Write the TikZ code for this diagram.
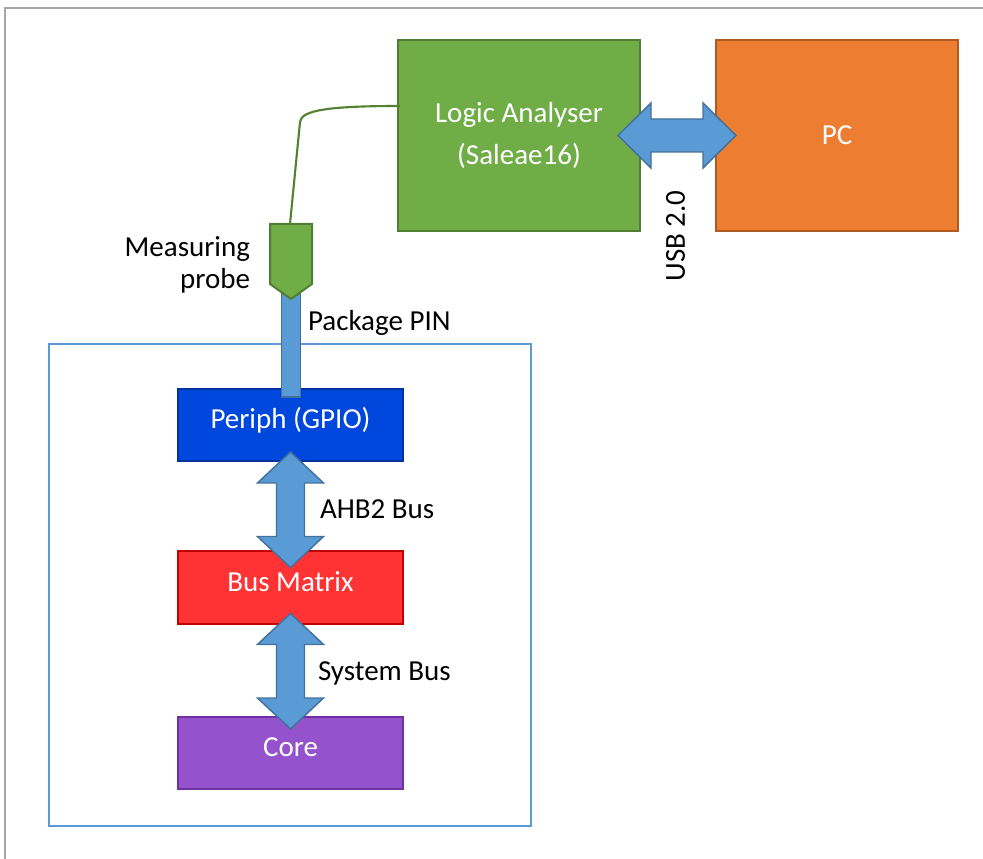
\documentclass[tikz,border=0pt]{standalone}
\usepackage{fontspec}
\setmainfont{Carlito}
\usetikzlibrary{calc}
\definecolor{lagreen}{RGB}{112,173,71}
\definecolor{lagreenD}{RGB}{80,126,50}
\definecolor{pcorange}{RGB}{237,125,49}
\definecolor{pcorangeD}{RGB}{174,90,33}
\definecolor{arrowblue}{RGB}{91,155,213}
\definecolor{arrowblueD}{RGB}{65,113,156}
\definecolor{periphblue}{RGB}{0,71,221}
\definecolor{periphblueD}{RGB}{0,51,160}
\definecolor{busred}{RGB}{255,51,51}
\definecolor{busredD}{RGB}{192,0,0}
\definecolor{corepurple}{RGB}{148,83,205}
\definecolor{corepurpleD}{RGB}{112,48,160}
\definecolor{framegray}{RGB}{166,166,166}
\definecolor{cablegreen}{RGB}{84,130,53}
\newcommand\mydblv[2]{%
  \draw[busarrow] let \p1=(#1), \p2=(#2) in
    (\x1,\y1) -- (\x1+24.75pt,\y1-23.25pt) -- (\x1+10.5pt,\y1-23.25pt)
    -- (\x1+10.5pt,\y2+23.25pt) -- (\x1+24.75pt,\y2+23.25pt) -- (\x1,\y2)
    -- (\x1-24.75pt,\y2+23.25pt) -- (\x1-10.5pt,\y2+23.25pt)
    -- (\x1-10.5pt,\y1-23.25pt) -- (\x1-24.75pt,\y1-23.25pt) -- cycle;}
\newcommand\mydblh[2]{%
  \draw[busarrow] let \p1=(#1), \p2=(#2) in
    (\x1,\y1) -- (\x1+24.75pt,\y1+24.375pt) -- (\x1+24.75pt,\y1+12.375pt)
    -- (\x2-24.75pt,\y1+12.375pt) -- (\x2-24.75pt,\y1+24.375pt) -- (\x2,\y1)
    -- (\x2-24.75pt,\y1-24.375pt) -- (\x2-24.75pt,\y1-12.375pt)
    -- (\x1+24.75pt,\y1-12.375pt) -- (\x1+24.75pt,\y1-24.375pt) -- cycle;}
\tikzset{
  txt/.style={font=\fontsize{21.75pt}{26pt}\selectfont},
  box/.style={txt, draw, line width=1.5pt, inner sep=0pt, outer sep=0pt, text=white},
  bigbox/.style={box, minimum width=181.5pt, minimum height=143.25pt},
  chipbox/.style={box, minimum width=168.75pt, minimum height=54pt, text height=15pt, text depth=9.75pt},
  busarrow/.style={draw=arrowblueD, fill=arrowblue, line width=1.1pt, line join=miter},
  lbl/.style={txt, inner sep=0pt, outer sep=0pt, text=black},
}
\begin{document}
\begin{tikzpicture}[x=0.75pt, y=-0.75pt]
\useasboundingbox (0,0) rectangle (983,859);
% outer frame
\draw[framegray, line width=1.5pt] (4.5,859) -- (4.5,8.5) -- (983,8.5);
% chip boundary
\node[draw=arrowblue, line width=1.6pt, minimum width=361.5pt, minimum height=361.5pt, inner sep=0pt, outer sep=0pt] (chip) at (290,585) {};
% chip blocks
\node[chipbox, fill=periphblue, draw=periphblueD] (periph) at (290.5,425) {Periph (GPIO)};
\node[chipbox, fill=busred, draw=busredD] (bus) at (290.5,587.5) {Bus Matrix};
\node[chipbox, fill=corepurple, draw=corepurpleD] (core) at (290.5,753) {Core};
% buses
\mydblv{$(periph.south)+(0,-9)$}{$(bus.north)+(0,16)$}
\mydblv{$(bus.south)+(0,-10)$}{$(core.north)+(0,12)$}
% probe
\node[minimum width=31.5pt, minimum height=56.25pt, inner sep=0pt, outer sep=0pt] (probe) at (291,261.5) {};
\draw[busarrow] ($(probe.south)+(-9.5,-14)$) rectangle ($(periph.north)+(10,8)$);
\draw[fill=lagreen, draw=lagreenD, line width=1.5pt, line join=miter]
  (probe.north west) -- (probe.north east) -- ($(probe.north east)+(0,60)$)
  -- (probe.south) -- ($(probe.north west)+(0,60)$) -- cycle;
% logic analyser and PC
\node[bigbox, fill=lagreen, draw=lagreenD, align=center, font=\fontsize{21.75pt}{31.25pt}\selectfont] (la) at (519,135.5) {Logic Analyser\\(Saleae16)};
\node[bigbox, fill=pcorange, draw=pcorangeD] (pc) at (837,135.5) {PC};
% cable
\draw[cablegreen, line width=1.6pt] ($(la.west)+(2,-29.5)$) .. controls (330,106) and (301,110) .. (300,122) -- ($(probe.north)+(-1,0)$);
% USB link
\mydblh{$(la.east)+(-22,0)$}{$(pc.west)+(20,0)$}
% labels
\node[lbl, rotate=90] (usb) at (675.5,236) {USB 2.0};
\node[lbl, anchor=base west] (pkg) at (308,330.7) {Package PIN};
\node[lbl, align=right, anchor=east, font=\fontsize{21.75pt}{24pt}\selectfont] (mp) at (250,265) {Measuring\\probe};
\node[lbl, anchor=base west] (ahb) at (320,518.3) {AHB2 Bus};
\node[lbl, anchor=base west] (sys) at (318,680) {System Bus};
\end{tikzpicture}
\end{document}
